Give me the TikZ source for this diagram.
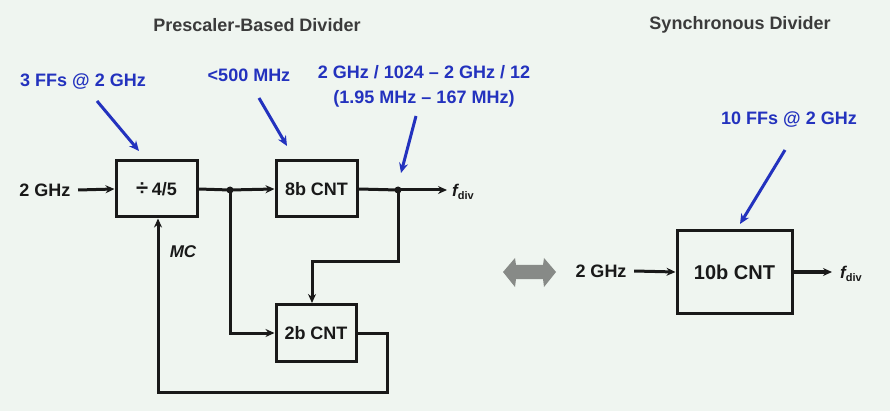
\documentclass[tikz,border=0pt]{standalone}
\usepackage{fontspec}
\setmainfont{Liberation Sans}
\usetikzlibrary{arrows.meta,calc}
\definecolor{bg}{RGB}{239,245,240}
\definecolor{lblue}{RGB}{35,50,190}
\definecolor{lgray}{RGB}{135,138,135}
\definecolor{ink}{RGB}{25,25,25}
\begin{document}
\begin{tikzpicture}[x=1pt,y=-1pt,
  every node/.style={font=\fontsize{18}{20}\selectfont\bfseries, text=ink},
  blk/.style={draw=ink, line width=3pt, minimum width=81pt, minimum height=56pt, inner sep=0pt},
  wire/.style={draw=ink, line width=3pt},
  sig/.style={wire, -{Stealth[length=9pt,width=8pt]}},
  note/.style={text=lblue},
  pointer/.style={draw=lblue, line width=3pt, -{Stealth[length=10pt,width=9pt]}},
  junc/.style={circle, fill=ink, minimum size=7pt, inner sep=0pt},
  ttl/.style={font=\fontsize{18}{20}\selectfont\bfseries, text=ink!85}
]
\fill[bg] (0,0) rectangle (890,411);
\useasboundingbox (0,0) rectangle (890,411);

% titles
\node[ttl] (t1) at (257,25) {Prescaler-Based Divider};
\node[ttl] (t2) at (740,25) {Synchronous Divider};

% left diagram
\node (in1) at (45,190) {2 GHz};
\node[blk] (presc) at (156.5,189) {\fontsize{22}{22}\selectfont ÷\,\fontsize{18}{20}\selectfont 4/5};
\node[blk] (cnt8) at (316.5,189) {8b CNT};
\node[blk, minimum width=80pt, minimum height=57pt] (cnt2) at (316,333) {2b CNT};
\node[junc] (d1) at (230,190) {};
\node[junc] (d2) at (398,190) {};
\coordinate (o1) at (447,190);
\node[anchor=west, inner sep=0pt] (f1) at (452,192) {\fontsize{17}{20}\selectfont\itshape f\raisebox{-0.35ex}{\fontsize{11}{12}\selectfont\upshape div}};
\node[font=\fontsize{17}{20}\selectfont\bfseries\itshape] (mc) at (183,252) {MC};

\draw[sig] (in1.east) ++(4,0) -- (presc.west);
\draw[wire] (presc.east) -- (d1.center);
\draw[sig] (d1.center) -- (cnt8.west);
\draw[wire] (cnt8.east) -- (d2.center);
\draw[sig] (d2.center) -- (o1);
\draw[sig] (d2.center) |- (312,262) -- (cnt2.north -| 312,0);
\draw[sig] (d1.center) |- (cnt2.west);
\draw[sig] (cnt2.east) -| (387,392) -| (presc.south -| 158,0);

% notes left
\node[note] (n1) at (83,82) {3 FFs @ 2 GHz};
\coordinate (n1s) at (97,101);
\coordinate (n1e) at (139,151);
\draw[pointer] (n1s) -- (n1e);
\node[note] (n2) at (249,75) {<500 MHz};
\coordinate (n2s) at (259,98);
\coordinate (n2e) at (287,146);
\draw[pointer] (n2s) -- (n2e);
\node[note, align=center, font=\fontsize{18}{25}\selectfont\bfseries] (n3) at (424,86) {2 GHz / 1024 – 2 GHz / 12\\(1.95 MHz – 167 MHz)};
\coordinate (n3s) at (416,116);
\coordinate (n3e) at (401,173);
\draw[pointer] (n3s) -- (n3e);

% double arrow
\fill[lgray] (503,272) -- (515,258) -- (516,265) -- (543,265) -- (544,258) -- (556,272) -- (544,287) -- (543,279) -- (516,279) -- (515,287) -- cycle;

% right diagram
\node (in2) at (601,271) {2 GHz};
\node[blk, minimum width=115pt, minimum height=82pt, font=\fontsize{20}{22}\selectfont\bfseries] (cnt10) at (734.5,272) {10b CNT};
\coordinate (o2) at (832,272);
\node[anchor=west, inner sep=0pt] (f2) at (840,274) {\fontsize{17}{20}\selectfont\itshape f\raisebox{-0.35ex}{\fontsize{11}{12}\selectfont\upshape div}};
\draw[sig] (in2.east) ++(4,0) -- (cnt10.west);
\draw[sig] (cnt10.east) -- (o2);

\node[note] (n4) at (789,120) {10 FFs @ 2 GHz};
\coordinate (n4s) at (785,150);
\coordinate (n4e) at (740,224);
\draw[pointer] (n4s) -- (n4e);
\end{tikzpicture}
\end{document}
